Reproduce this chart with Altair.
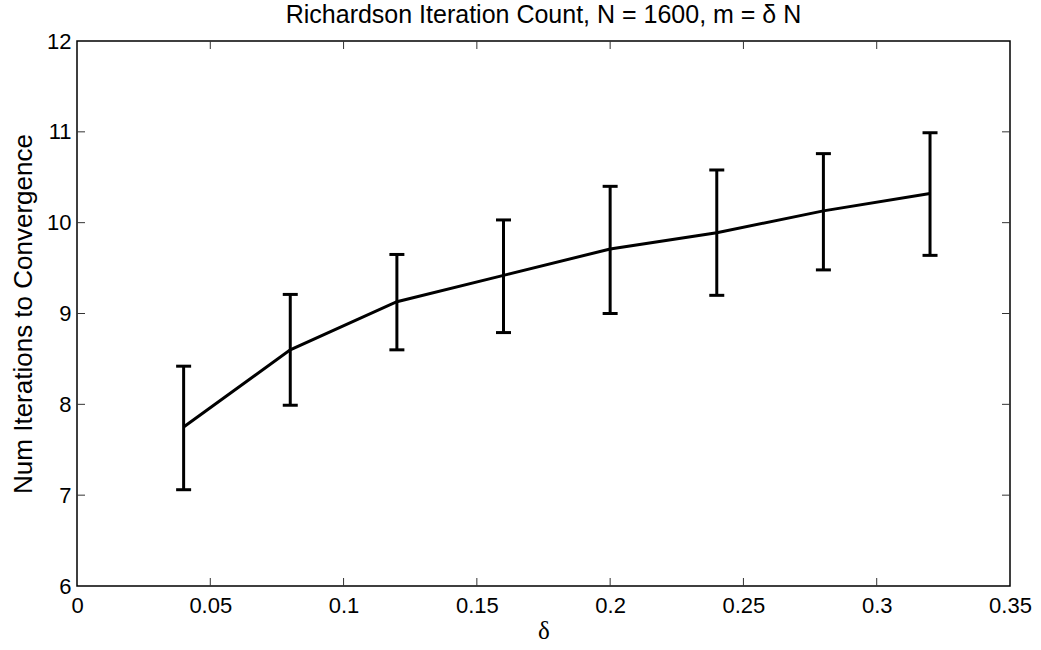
import altair as alt
import pandas as pd

# Richardson iteration counts versus delta (mean with min/max spread)
delta = [0.04, 0.08, 0.12, 0.16, 0.20, 0.24, 0.28, 0.32]
mean_iters = [7.75, 8.60, 9.13, 9.42, 9.71, 9.89, 10.13, 10.32]
low_iters = [7.06, 7.99, 8.60, 8.79, 9.00, 9.20, 9.48, 9.64]
high_iters = [8.42, 9.21, 9.65, 10.03, 10.40, 10.58, 10.76, 10.99]

x_ticks = [0, 0.05, 0.1, 0.15, 0.2, 0.25, 0.3, 0.35]
y_ticks = [6, 7, 8, 9, 10, 11, 12]
title_text = ["Richardson Iteration Count, N = 1600, m = δ N"]

W, H = 933, 545
TICK_LEN = 8
FONT = "Liberation Sans"

df = pd.DataFrame({"delta": delta, "mean": mean_iters, "lo": low_iters, "hi": high_iters})
xt = pd.DataFrame({"v": x_ticks[1:-1]})
yt = pd.DataFrame({"v": y_ticks[1:-1]})
tt = pd.DataFrame({"t": title_text})

xscale = alt.Scale(domain=[0, 0.35], nice=False, zero=False)
yscale = alt.Scale(domain=[6, 12], nice=False, zero=False)

x_enc = alt.X(
    "delta:Q", scale=xscale,
    axis=alt.Axis(values=x_ticks, title="δ", ticks=False, domain=False, grid=False,
                  labelFontSize=22, labelPadding=9, labelFont=FONT, labelColor="black",
                  titleFont="Liberation Serif", titleFontSize=25, titleFontWeight="normal",
                  titleColor="black", titlePadding=2,
                  labelExpr="datum.value == 0 ? '0' : format(datum.value, '~g')",
                  labelFlush=False, labelOverlap=False),
)
y_enc = alt.Y(
    "mean:Q", scale=yscale,
    axis=alt.Axis(values=y_ticks, format="d", title="Num Iterations to Convergence",
                  ticks=False, domain=False, grid=False, labelFontSize=22, labelPadding=6,
                  labelFont=FONT, labelColor="black", titleFont=FONT, titleFontSize=26,
                  titleFontWeight="normal", titleColor="black", titlePadding=10,
                  labelFlush=False, labelOverlap=False),
)

base = alt.Chart(df)

line = base.mark_line(color="black", strokeWidth=3).encode(x=x_enc, y=y_enc)

bars = base.mark_rule(color="black", strokeWidth=3).encode(
    x="delta:Q", y="lo:Q", y2="hi:Q"
)
cap_lo = base.mark_rule(color="black", strokeWidth=3, xOffset=-7.5, x2Offset=7.5).encode(
    x="delta:Q", x2="delta:Q", y="lo:Q",
)
cap_hi = base.mark_rule(color="black", strokeWidth=3, xOffset=-7.5, x2Offset=7.5).encode(
    x="delta:Q", x2="delta:Q", y="hi:Q",
)

# inward-pointing ticks on all four sides of the frame
tick_style = dict(color="#333333", strokeWidth=1)
xt_bottom = alt.Chart(xt).mark_rule(**tick_style).encode(
    x=alt.X("v:Q", scale=xscale), y=alt.value(H), y2=alt.value(H - TICK_LEN))
xt_top = alt.Chart(xt).mark_rule(**tick_style).encode(
    x=alt.X("v:Q", scale=xscale), y=alt.value(0), y2=alt.value(TICK_LEN))
yt_left = alt.Chart(yt).mark_rule(**tick_style).encode(
    y=alt.Y("v:Q", scale=yscale), x=alt.value(0), x2=alt.value(TICK_LEN))
yt_right = alt.Chart(yt).mark_rule(**tick_style).encode(
    y=alt.Y("v:Q", scale=yscale), x=alt.value(W), x2=alt.value(W - TICK_LEN))

# chart title, set just above the frame
title = alt.Chart(tt).mark_text(
    font=FONT, fontSize=25, color="black", align="center", baseline="alphabetic"
).encode(x=alt.value(W / 2), y=alt.value(-18), text="t:N")

chart = (
    alt.layer(line, bars, cap_lo, cap_hi, xt_bottom, xt_top, yt_left, yt_right, title)
    .properties(
        width=W, height=H,
        background="white",
        autosize=alt.AutoSizeParams(type="none"),
        padding={"left": 77, "top": 41, "right": 31, "bottom": 64},
    )
    .configure_view(stroke="black", strokeWidth=1.5)
)

chart.save("out.html", embed_options={"renderer": "svg", "actions": False})
